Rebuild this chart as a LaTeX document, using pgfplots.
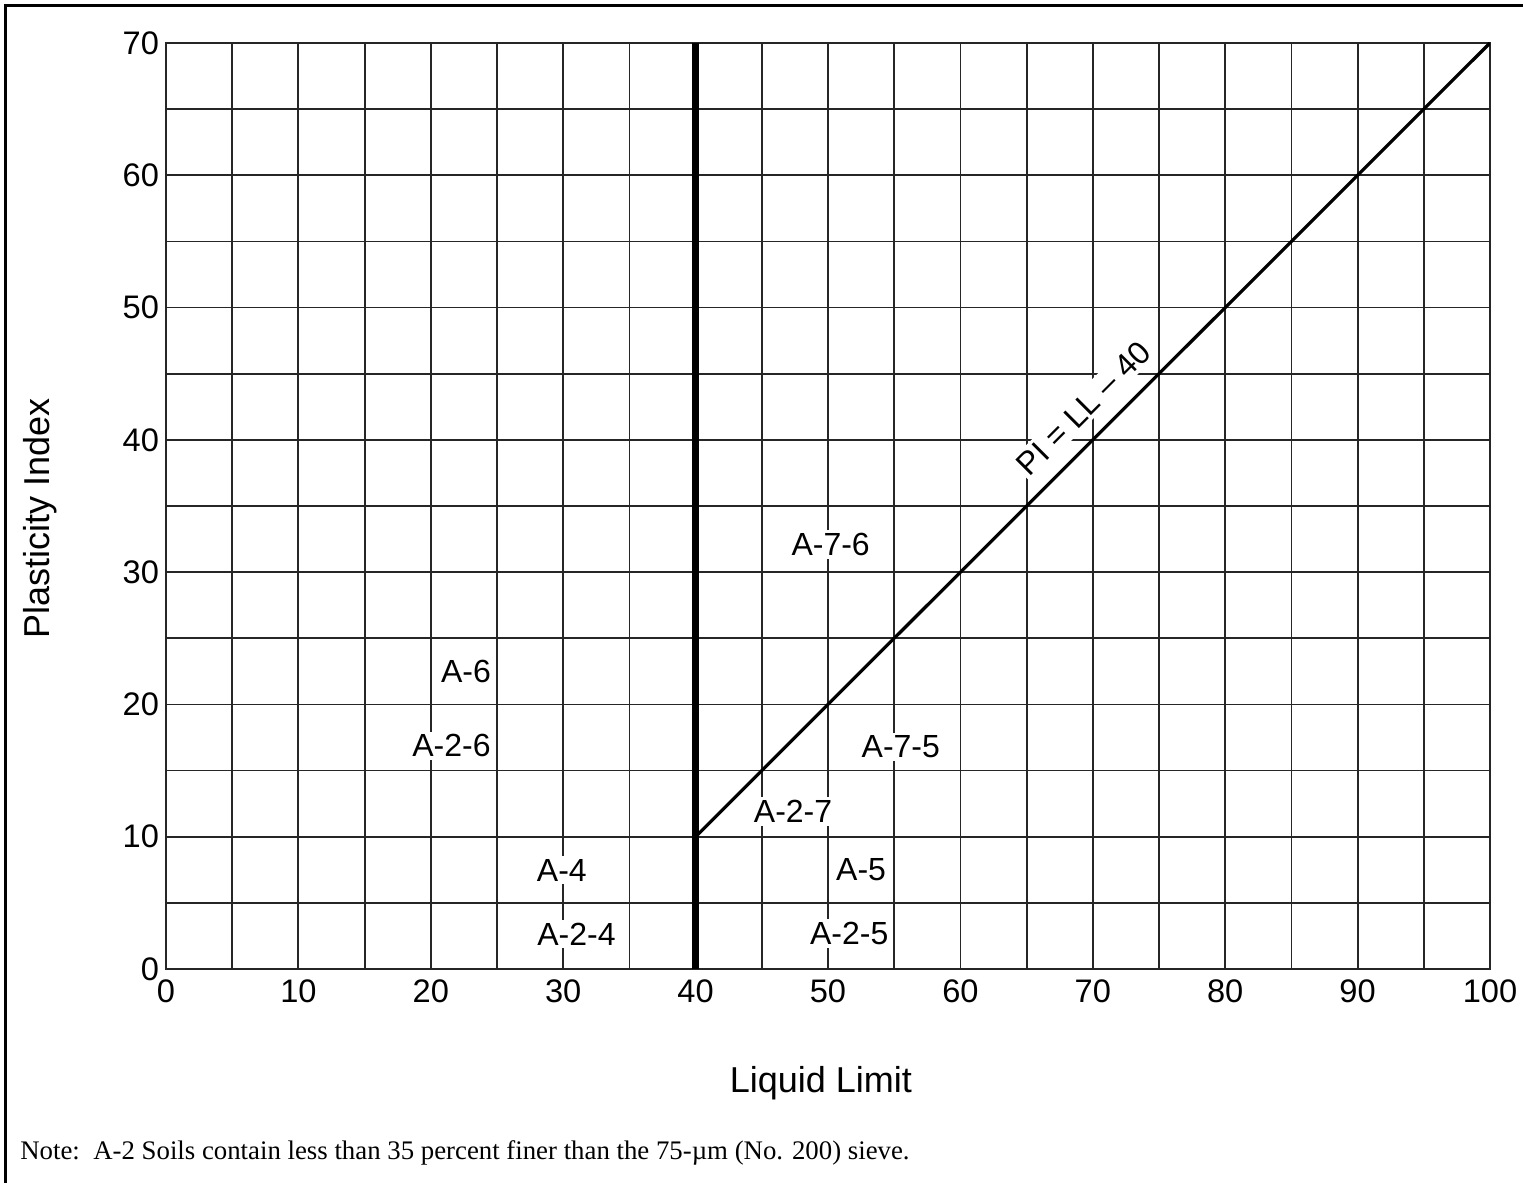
\documentclass[border=0pt]{standalone}
\usepackage{pgfplots}
\pgfplotsset{compat=1.18}
\usepackage{fontspec}
\setmainfont{Liberation Sans}
\newfontfamily\notefont{Liberation Serif}
\begin{document}
\begin{tikzpicture}[x=0.5pt,y=0.5pt]
\path[use as bounding box] (0,0) rectangle (1523,1183);
\draw[line width=1.5pt] (5,0) -- (5,1177) -- (1523,1177);
\begin{axis}[
  at={(83pt,107pt)}, anchor=south west,
  scale only axis, width=662pt, height=463pt,
  xmin=0, xmax=100, ymin=0, ymax=70,
  xtick={0,10,...,100}, ytick={0,10,...,70},
  minor x tick num=1, minor y tick num=1,
  grid=both,
  major grid style={black!85, line width=0.9pt},
  minor grid style={black!85, line width=0.9pt},
  axis line style={black!85, line width=0.9pt},
  major tick length=0pt, minor tick length=0pt,
  tick label style={font=\fontsize{16.3}{19}\selectfont},
  xticklabel style={yshift=-2pt},
  /pgf/number format/assume math mode=true,
  xlabel={Liquid Limit},
  ylabel={Plasticity Index},
  xlabel style={at={(axis description cs:0.4947,-0.123)}, anchor=center, font=\fontsize{18}{21}\selectfont},
  ylabel style={at={(axis description cs:-0.0952,0.487)}, anchor=center, font=\fontsize{18}{21}\selectfont},
]
\addplot[black, line width=3.5pt, forget plot] coordinates {(40,0) (40,70)};
\addplot[black, line width=1.6pt, forget plot] coordinates {(40,10) (100,70)};
\begin{scope}[every node/.style={fill=white, inner sep=1.5pt, font=\fontsize{16}{19}\selectfont}]
\node at (axis cs:22.66,22.5) {A-6};
\node at (axis cs:21.56,16.86) {A-2-6};
\node at (axis cs:29.9,7.45) {A-4};
\node at (axis cs:31.0,2.65) {A-2-4};
\node at (axis cs:50.2,32.1) {A-7-6};
\node at (axis cs:55.5,16.8) {A-7-5};
\node at (axis cs:47.36,11.9) {A-2-7};
\node at (axis cs:52.5,7.48) {A-5};
\node at (axis cs:51.6,2.68) {A-2-5};
\node[rotate=45] at (axis cs:69.3,42.4) {PI = LL – 40};
\end{scope}
\end{axis}
\node[anchor=west, inner sep=0pt, font=\notefont\fontsize{13.4}{16}\selectfont] at (20,30) {Note:\ \ A-2 Soils contain less than 35 percent finer than the 75-µm (No. 200) sieve.};
\end{tikzpicture}
\end{document}
